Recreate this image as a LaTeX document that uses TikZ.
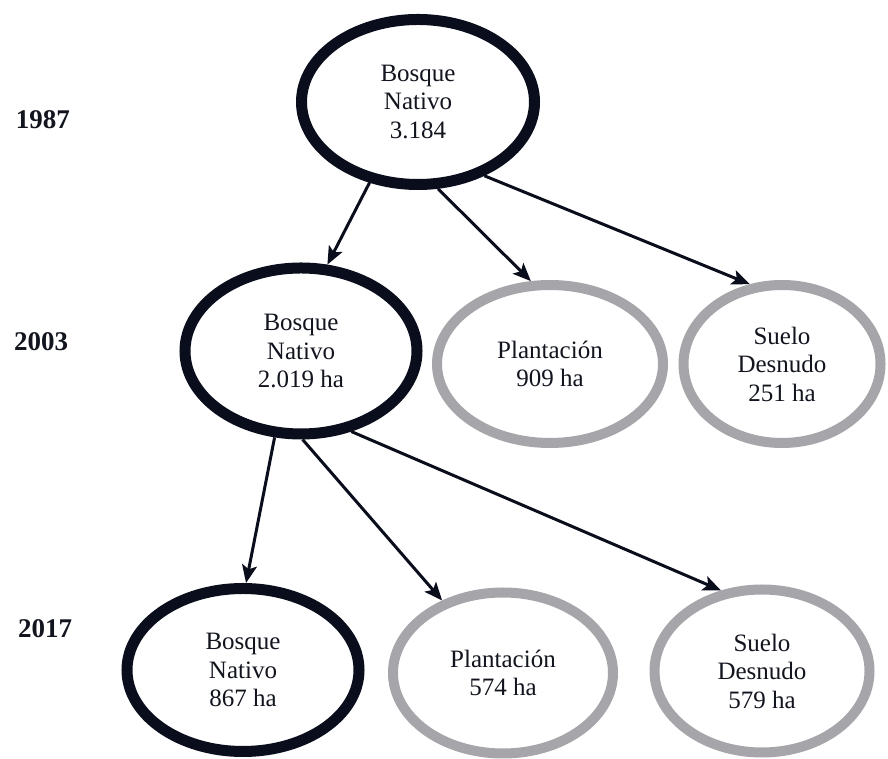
\documentclass[tikz,border=0pt]{standalone}
\usepackage{fontspec}
\setmainfont{Liberation Serif}
\newfontfamily\tnrfont{Liberation Serif}
\usetikzlibrary{shapes.geometric,arrows.meta}
\definecolor{inkc}{RGB}{10,14,28}
\definecolor{grayc}{RGB}{166,166,170}
\definecolor{txtc}{RGB}{18,20,30}
\tikzset{
  darkell/.style={ellipse, draw=inkc, line width=11pt, inner sep=0pt, align=center,
    font=\tnrfont\fontsize{25}{28.5}\selectfont, text=txtc},
  grayell/.style={ellipse, draw=grayc, line width=10pt, inner sep=0pt, align=center,
    font=\tnrfont\fontsize{25}{28.5}\selectfont, text=txtc},
  yearlbl/.style={font=\tnrfont\fontsize{27}{30}\selectfont\bfseries, text=txtc, inner sep=0pt},
  conn/.style={draw=inkc, line width=3pt, -{Stealth[length=18pt,width=15pt,inset=4pt]}}
}
\begin{document}
\begin{tikzpicture}[x=1pt,y=1pt]
  \fill[white] (0,0) rectangle (888,759);
  \useasboundingbox (0,0) rectangle (888,759);

  % year labels
  \node[yearlbl] (y1987) at (43,639) {1987};
  \node[yearlbl] (y2003) at (41,417) {2003};
  \node[yearlbl] (y2017) at (45,130) {2017};

  % 1987
  \node[darkell, minimum width=233pt, minimum height=165pt] (top) at (418,657) {Bosque\\Nativo\\3.184};

  % 2003
  \node[darkell, minimum width=232pt, minimum height=166pt] (b03) at (301,408) {Bosque\\Nativo\\2.019 ha};
  \node[grayell, minimum width=226pt, minimum height=158pt] (p03) at (550,395) {Plantación\\909 ha};
  \node[grayell, minimum width=197pt, minimum height=158pt] (s03) at (782,395) {Suelo\\Desnudo\\251 ha};

  % 2017
  \node[darkell, minimum width=232pt, minimum height=163pt] (b17) at (243,89) {Bosque\\Nativo\\867 ha};
  \node[grayell, minimum width=220pt, minimum height=161pt] (p17) at (503,86) {Plantación\\574 ha};
  \node[grayell, minimum width=215pt, minimum height=163pt] (s17) at (762,88) {Suelo\\Desnudo\\579 ha};

  % connectors
  \draw[conn] (top.-121) -- (b03.73.5);
  \draw[conn] (top.-77) -- (p03.103.4);
  \draw[conn] (top.-48) -- (s03.112);
  \draw[conn] (b03.-107) -- (b17.88.7);
  \draw[conn] (b03.-89.4) -- (p17.130);
  \draw[conn] (b03.-58) -- (s17.117.6);
\end{tikzpicture}
\end{document}
